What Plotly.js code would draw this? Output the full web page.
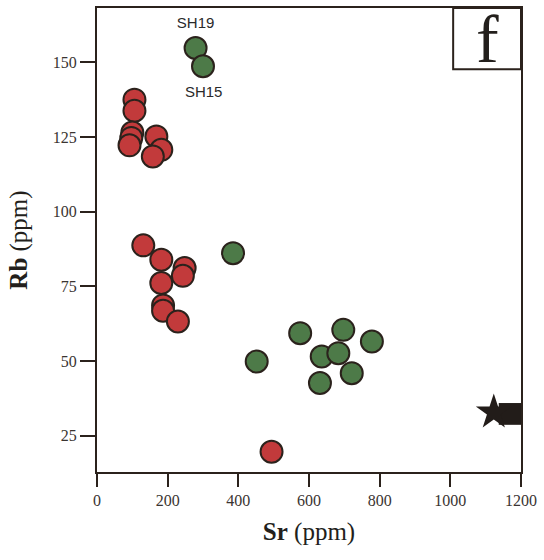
<!DOCTYPE html>
<html>
<head>
<meta charset="utf-8">
<script src="https://cdn.plot.ly/plotly-3.0.1.min.js"></script>
<style>html,body{margin:0;padding:0;background:#fff;}#chart{width:544px;height:560px;}</style>
</head>
<body>
<div id="chart"></div>
<script>
// Red group (Sr, Rb in ppm)
const redSr = [106, 106, 100, 97, 92, 168, 182, 158, 131, 182, 248, 243, 182, 187, 187, 229, 494];
const redRb = [137.5, 133.8, 126.5, 124.7, 122.2, 125.2, 120.7, 118.5, 88.7, 83.9, 81.1, 78.5, 76.1, 68.6, 66.8, 63.2, 19.6];
// Green group
const greenSr = [279, 300, 385, 452, 575, 697, 778, 636, 683, 721, 631];
const greenRb = [154.8, 148.7, 86.1, 49.8, 59.3, 60.4, 56.5, 51.5, 52.6, 45.9, 42.6];
// Labelled samples
const labelNames = ["SH19", "SH15"];
const labelSr = [279, 302];
const labelRb = [162.6, 139.8];
// Reference star and range bar
const starSr = [1123];
const starRb = [32.8];
const barSr = [1137, 1200];
const barRb = [28.6, 35.9];
// Axis ticks
const xTicks = [0, 200, 400, 600, 800, 1000, 1200];
const yTicks = [25, 50, 75, 100, 125, 150];

const edge = '#2b221c';
const traces = [
  {
    x: [barSr[0], barSr[1], barSr[1], barSr[0], barSr[0]],
    y: [barRb[0], barRb[0], barRb[1], barRb[1], barRb[0]],
    mode: 'lines', fill: 'toself', fillcolor: '#221c19',
    line: {width: 0, color: '#221c19'}, hoverinfo: 'skip', showlegend: false
  },
  {
    x: starSr, y: starRb, mode: 'markers',
    marker: {symbol: 'star', size: 27, color: '#221c19', line: {width: 0}},
    showlegend: false
  },
  {
    x: redSr, y: redRb, mode: 'markers',
    marker: {size: 22, color: '#c23a3b', line: {width: 2, color: edge}},
    showlegend: false
  },
  {
    x: greenSr, y: greenRb, mode: 'markers',
    marker: {size: 22, color: '#4d7a48', line: {width: 2, color: edge}},
    showlegend: false
  },
  {
    x: labelSr, y: labelRb, mode: 'text', text: labelNames,
    textfont: {family: 'Liberation Sans, Arial, sans-serif', size: 15, color: '#2a2a2a'},
    showlegend: false, hoverinfo: 'skip'
  }
];

const tickFont = {family: 'Liberation Serif, Times New Roman, serif', size: 16, color: '#3a3431'};
const titleFont = {family: 'Liberation Serif, Times New Roman, serif', size: 25, color: '#231f1c'};

const layout = {
  width: 544, height: 560,
  margin: {l: 97, r: 23, t: 8, b: 88, pad: 0},
  paper_bgcolor: '#fff', plot_bgcolor: '#fff',
  showlegend: false,
  xaxis: {
    range: [0, 1200], tickvals: xTicks, ticktext: xTicks.map(String),
    showgrid: false, zeroline: false,
    showline: true, mirror: true, linecolor: edge, linewidth: 2,
    ticks: 'outside', ticklen: 13, tickwidth: 2, tickcolor: edge,
    tickfont: tickFont,
    title: {text: '<b>Sr</b> (ppm)', font: titleFont, standoff: 14}
  },
  yaxis: {
    range: [12.8, 168.2], tickvals: yTicks, ticktext: yTicks.map(String),
    showgrid: false, zeroline: false,
    showline: true, mirror: true, linecolor: edge, linewidth: 2,
    ticks: 'outside', ticklen: 15, tickwidth: 2, tickcolor: edge,
    tickfont: tickFont,
    title: {text: '<b>Rb</b> (ppm)', font: titleFont, standoff: 18}
  },
  shapes: [
    {type: 'rect', xref: 'paper', yref: 'paper', x0: 0.84, x1: 1, y0: 0.868, y1: 1,
     line: {color: edge, width: 2}, fillcolor: 'rgba(0,0,0,0)'}
  ],
  annotations: [
    {xref: 'paper', yref: 'paper', x: 0.92, y: 0.934, text: 'f', showarrow: false,
     font: {family: 'Liberation Serif, Times New Roman, serif', size: 68, color: '#231f1c'},
     xanchor: 'center', yanchor: 'middle'}
  ]
};

Plotly.newPlot('chart', traces, layout, {displayModeBar: false, staticPlot: true});
</script>
</body>
</html>
